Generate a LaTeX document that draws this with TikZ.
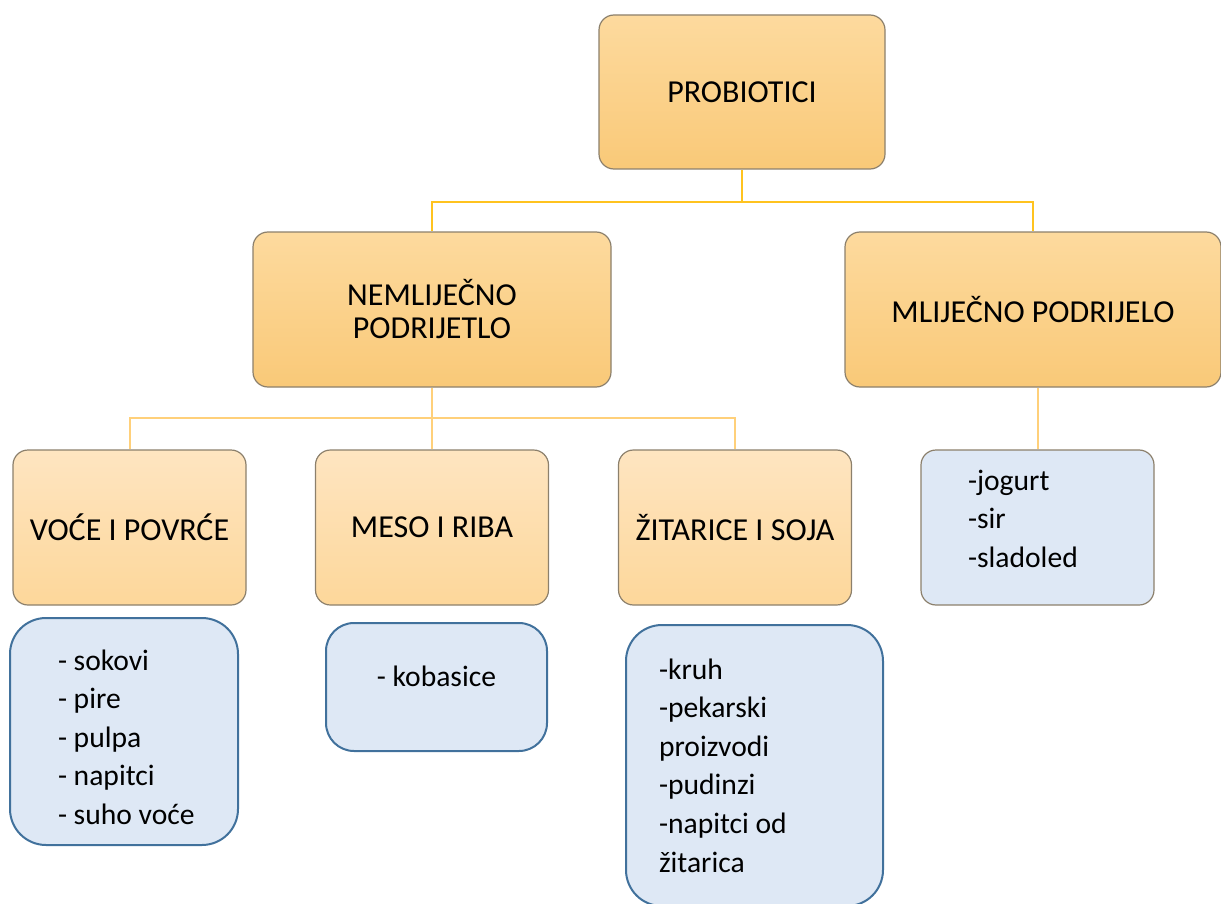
\documentclass[tikz,border=0pt]{standalone}
\usepackage{fontspec}
\setmainfont{Carlito}
\usepackage{tikz}
\usetikzlibrary{calc}
\definecolor{boxtop}{HTML}{FDDA9E}
\definecolor{boxbot}{HTML}{F9C978}
\definecolor{subtop}{HTML}{FEE5C1}
\definecolor{subbot}{HTML}{FDD79A}
\definecolor{boxedge}{HTML}{8C806C}
\definecolor{listfill}{HTML}{DEE8F5}
\definecolor{listedge}{HTML}{41719C}
\definecolor{linktop}{HTML}{FFC31F}
\definecolor{linklow}{HTML}{FFD07A}

\begin{document}
\begin{tikzpicture}[x=0.5pt,y=-0.5pt,
    every node/.style={font=\fontsize{16}{19.3}\selectfont, inner sep=0pt},
    mainbox/.style={draw=boxedge, line width=0.6pt, rounded corners=7.5pt,
      top color=boxtop, bottom color=boxbot, align=center},
    subbox/.style={draw=boxedge, line width=0.6pt, rounded corners=7.5pt,
      top color=subtop, bottom color=subbot, align=center,
      minimum width=116.5pt, minimum height=77.5pt},
    listbox/.style={draw=listedge, line width=1pt, rounded corners=18pt,
      fill=listfill, align=flush left, font=\fontsize{14.8}{19.3}\selectfont},
    linkhi/.style={draw=linktop, line width=1.4pt},
    linklo/.style={draw=linklow, line width=1pt}]
      \useasboundingbox (0,0) rectangle (1221,904);
      % tree nodes
      \node[mainbox, minimum width=143pt, minimum height=77pt] (prob) at (742,92) {PROBIOTICI};
      \node[mainbox, minimum width=179pt, minimum height=77.5pt,
        font=\fontsize{16}{16.5}\selectfont] (nem) at (432,309.5) {NEMLIJEČNO\\PODRIJETLO};
      \node[mainbox, minimum width=188pt, minimum height=77.5pt] (mlij) at (1033,309.5) {MLIJEČNO PODRIJELO};
      \node[subbox] (voce) at (129.5,527.5) {VOĆE I POVRĆE};
      \node[subbox] (meso) at (432,527.5) {MESO I RIBA};
      \node[subbox] (zit) at (735,527.5) {ŽITARICE I SOJA};
      \node[listbox, draw=boxedge, line width=0.6pt, rounded corners=7.5pt,
        minimum width=116.5pt, minimum height=77.5pt, text width=69.5pt]
        (jog) at (1037.5,527.5) {-jogurt\\-sir\\-sladoled\rule[-9pt]{0pt}{0pt}};
      % lists
      \node[listbox, minimum width=114pt, minimum height=113.5pt, text width=66pt]
        (sok) at (124,731.5) {\rule{0pt}{16pt}- sokovi\\- pire\\- pulpa\\- napitci\\\mbox{- suho voće}};
      \node[listbox, rounded corners=14pt, minimum width=110.5pt, minimum height=64pt,
        align=center, text depth=11pt] (kob) at (436.5,687) {- kobasice};
      \node[listbox, minimum width=128.5pt, minimum height=140.5pt, text width=95.5pt]
        (kruh) at (754.5,765.5) {-kruh\\-pekarski\\proizvodi\\-pudinzi\\-napitci od\\žitarica};
      % tree edges
      \coordinate (split1) at (742,202);
      \coordinate (split2) at (432,418);
      \draw[linkhi] (prob.south) -- (split1);
      \draw[linkhi] (split1) -| (nem.north);
      \draw[linkhi] (split1) -| (mlij.north);
      \draw[linklo] (nem.south) -- (split2);
      \draw[linklo] (split2) -| (voce.north);
      \draw[linklo] (split2) -- (meso.north);
      \draw[linklo] (split2) -| (zit.north);
      \draw[linklo] (mlij.south -| jog.north) -- (jog.north);
\end{tikzpicture}
\end{document}
